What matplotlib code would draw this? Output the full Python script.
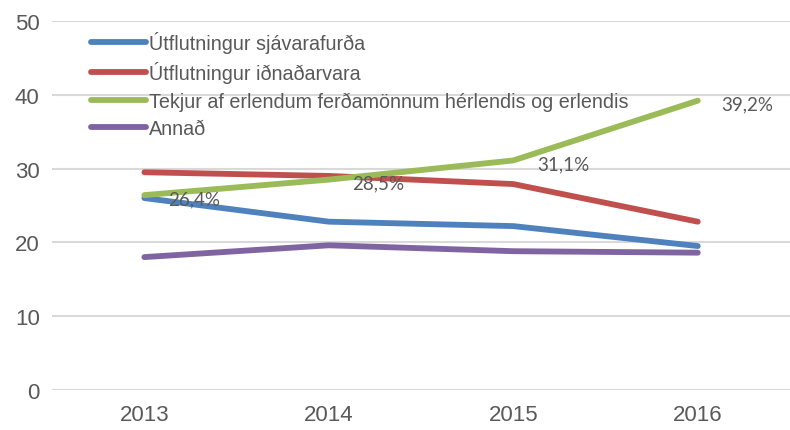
import matplotlib.pyplot as plt
import numpy as np

years = ["2013", "2014", "2015", "2016"]
sjavarafurdir = [26.0, 22.8, 22.2, 19.5]
idnadarvorur = [29.5, 29.0, 27.9, 22.8]
ferdamenn = [26.4, 28.5, 31.1, 39.2]
annad = [18.0, 19.6, 18.8, 18.6]
ferdamenn_labels = ["26,4%", "28,5%", "31,1%", "39,2%"]

series = [
    ("Útflutningur sjávarafurða", sjavarafurdir, "#4F81BD"),
    ("Útflutningur iðnaðarvara", idnadarvorur, "#C0504D"),
    ("Tekjur af erlendum ferðamönnum hérlendis og erlendis", ferdamenn, "#9BBB59"),
    ("Annað", annad, "#8064A2"),
]

sans = ["Liberation Sans", "DejaVu Sans"]
grey = "#595959"

fig = plt.figure(figsize=(7.9, 4.31), dpi=100)
ax = fig.add_axes([0.066, 0.093, 0.934, 0.856])

x = np.arange(len(years))
for name, vals, col in series:
    ax.plot(x, vals, color=col, lw=4.2, solid_capstyle="round", label=name)

# data labels for the tourism series
for xi, v, lab in zip(x, ferdamenn, ferdamenn_labels):
    ax.annotate(lab, (xi, v), xytext=(17, -2.5), textcoords="offset points",
                ha="left", va="center", fontsize=13.5, color=grey, family=["Lato", "DejaVu Sans"])

ax.set_xlim(-0.5, 3.5)
ax.set_ylim(0, 50)
ax.set_xticks(x)
ax.set_xticklabels(years)
ax.set_yticks(range(0, 51, 10))
ax.yaxis.grid(True, color="#d9d9d9", lw=1.5)
ax.set_axisbelow(True)
for s in ax.spines.values():
    s.set_visible(False)
ax.tick_params(length=0, colors=grey, labelsize=16, pad=10)
ax.tick_params(axis="y", pad=9)
for t in ax.get_xticklabels() + ax.get_yticklabels():
    t.set_family(sans)

leg = ax.legend(loc="upper left", bbox_to_anchor=(91 / 790, 1 - 32 / 431),
                bbox_transform=fig.transFigure, frameon=False, handlelength=2.8,
                handletextpad=0.15, labelspacing=0.42, borderaxespad=0, borderpad=0,
                prop={"family": sans, "size": 14.2})
for t in leg.get_texts():
    t.set_color(grey)

fig.savefig("out.png", dpi=100)
